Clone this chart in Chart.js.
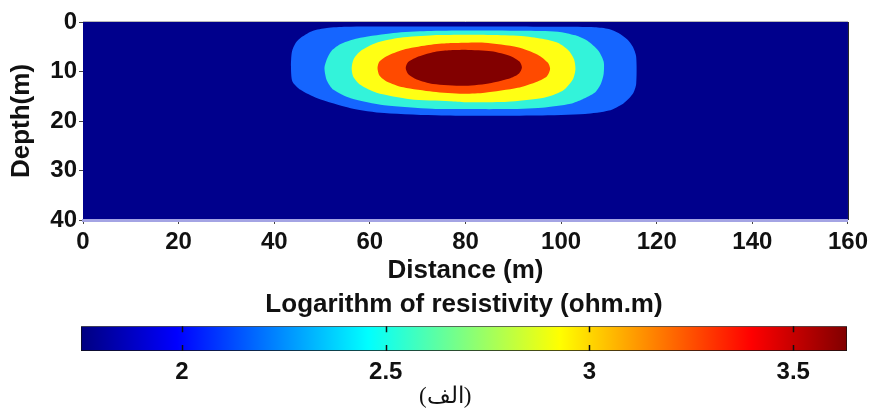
<!DOCTYPE html>
<html>
<head>
<meta charset="utf-8">
<script src="https://cdn.jsdelivr.net/npm/chart.js@4.4.1/dist/chart.umd.min.js"></script>
<style>
  body { margin: 0; background: #fff; width: 872px; height: 413px; position: relative; overflow: hidden; }
  #section-chart { position: absolute; left: 0; top: 0; }
  #scale-chart { position: absolute; left: 0; top: 285px; }
  #caption { position: absolute; left: 419px; top: 382px; font: 23px 'Liberation Serif', 'DejaVu Serif', serif; color: #111; }
</style>
</head>
<body>
<canvas id="section-chart" width="872" height="290"></canvas>
<canvas id="scale-chart" width="872" height="128"></canvas>
<div id="caption">(الف)</div>
<script>
// axis ticks
const distanceTicks = [0, 20, 40, 60, 80, 100, 120, 140, 160];
const depthTicks = [0, 10, 20, 30, 40];
const colorbarTicks = [2, 2.5, 3, 3.5];
const colorbarRange = [1.752, 3.632];

// contour outlines, [distance m, depth m], outermost level first
const level1 = [[80,0.9],[100,0.95],[107,1.05],[110,1.4],[112,2.2],[113.8,3.5],[115,5],[115.7,7],[115.7,12.5],[115,14.5],[113.1,16.4],[110,17.9],[105,18.6],[95,18.9],[75,18.9],[63,18.4],[56,17.4],[49,15.4],[45.5,13.7],[43.8,12],[43.5,9],[43.7,6],[44.5,4.2],[45.8,3],[48,1.8],[51,1.2],[55,0.95],[65,0.9],[80,0.9]];
const level2 = [[80,1.7],[92,1.75],[99.3,1.95],[103,2.7],[105.5,3.8],[107.8,5.8],[108.9,8],[108.9,10.5],[108.3,12.5],[107,14.3],[104.5,15.6],[102,16.5],[96,17.3],[88,17.6],[80,17.6],[73,17.5],[63,16.8],[56,15.4],[52.4,13.7],[51,11.8],[50.5,9.3],[51,7.5],[52,5.8],[54,4.4],[58,3.2],[64.9,2.2],[72,1.8],[80,1.7]];
const level3 = [[80,2.6],[86,2.65],[92.3,2.9],[96.5,3.5],[99.3,4.2],[101.5,5.7],[102.7,7.5],[103,9.5],[102.5,11.5],[100.6,13.7],[98.5,14.7],[95.8,15.4],[88.8,16.1],[80,16.2],[76.7,16.0],[68.4,15.6],[61.4,14.3],[58,12.7],[56.5,11],[56.2,9.3],[56.6,7.5],[58,5.9],[61.4,4.2],[66.3,3.2],[73.2,2.7],[80,2.6]];
const level4 = [[80,4.2],[84,4.2],[90.9,5.1],[95.1,6.6],[97.2,8.2],[97.7,9.5],[97,11],[95.1,12.0],[90.9,13.3],[84,14.3],[79.5,14.5],[73.2,14.1],[67,13.2],[63.5,12.0],[62,10.8],[61.6,9.3],[62,8],[63.5,6.9],[67,5.6],[71.9,4.7],[76,4.3],[80,4.2]];
const level5 = [[80,5.6],[85.4,5.9],[89.5,6.9],[91.3,8],[91.8,9.2],[91.2,10.4],[89.5,11.3],[85.4,12.3],[80,12.9],[73.2,12.5],[69.8,11.6],[68,10.5],[67.5,9.3],[68,8.1],[69.8,7.1],[73.2,6.1],[76.5,5.7],[80,5.6]];

const levels = [level1, level2, level3, level4, level5];
const levelColors = ['#1565ff', '#33f3da', '#ffff14', '#ff4a00', '#820000'];
const backgroundColor = '#00008c';
const jetStops = [[0, '#000080'], [0.125, '#0000ff'], [0.375, '#00ffff'], [0.625, '#ffff00'], [0.875, '#ff0000'], [1, '#800000']];

const textColor = '#111';
const boldFont = size => ({ family: "'Liberation Sans', Arial, sans-serif", size, weight: 'bold' });
const fixTicks = list => scale => { scale.ticks = list.map(v => ({ value: v })); };

// navy fill behind the contours, thin frame on top/right
const sectionFrame = {
  id: 'sectionFrame',
  beforeDraw(chart) {
    const { ctx, chartArea: a } = chart;
    ctx.save();
    ctx.fillStyle = backgroundColor;
    ctx.fillRect(a.left, a.top, a.right - a.left, a.bottom - a.top);
    ctx.restore();
  },
  afterDraw(chart) {
    const { ctx, chartArea: a } = chart;
    ctx.save();
    ctx.lineWidth = 1;
    ctx.strokeStyle = '#b8b8b8';
    ctx.beginPath();
    ctx.moveTo(a.left, a.top - 0.5);
    ctx.lineTo(a.right, a.top - 0.5);
    ctx.stroke();
    ctx.strokeStyle = '#222';
    ctx.beginPath();
    ctx.moveTo(a.right + 0.5, a.top);
    ctx.lineTo(a.right + 0.5, a.bottom);
    ctx.stroke();
    ctx.restore();
  }
};

new Chart(document.getElementById('section-chart'), {
  type: 'line',
  data: {
    datasets: levels.map((pts, i) => ({
      data: pts.map(([x, y]) => ({ x, y })),
      backgroundColor: levelColors[i],
      borderWidth: 0,
      pointRadius: 0,
      fill: 'shape',
      tension: 0.25,
      order: levels.length - i
    }))
  },
  options: {
    responsive: false,
    animation: false,
    layout: { padding: { top: 22, right: 20, left: 0, bottom: 0 } },
    plugins: { legend: { display: false }, tooltip: { enabled: false } },
    scales: {
      x: {
        type: 'linear', min: 0, max: 160,
        afterBuildTicks: fixTicks(distanceTicks),
        afterFit: s => { s.height = 70; },
        ticks: { font: boldFont(24), color: textColor, padding: 4, maxRotation: 0, autoSkip: false },
        grid: { drawOnChartArea: false, tickLength: 4, color: '#444' },
        border: { color: '#a4a4e4', width: 3 },
        title: { display: true, text: 'Distance (m)', font: boldFont(26), color: textColor, padding: { top: 0, bottom: 4 } }
      },
      y: {
        type: 'linear', reverse: true, min: 0, max: 40,
        afterBuildTicks: fixTicks(depthTicks),
        afterFit: s => { s.width = 83; },
        ticks: { font: boldFont(24), color: textColor, padding: 2, autoSkip: false },
        grid: { drawOnChartArea: false, tickLength: 4, color: '#444' },
        border: { display: false },
        title: { display: true, text: 'Depth(m)', font: boldFont(26), color: textColor, padding: { top: 6, bottom: 0 } }
      }
    }
  },
  plugins: [sectionFrame]
});

function jetGradient(chart) {
  const a = chart.chartArea;
  if (!a) return backgroundColor;
  const g = chart.ctx.createLinearGradient(a.left, 0, a.right, 0);
  jetStops.forEach(([f, c]) => g.addColorStop(f, c));
  return g;
}

// short black ticks on the top and bottom inner edges of the colour bar
const colorbarMarks = {
  id: 'colorbarMarks',
  afterDatasetsDraw(chart) {
    const { ctx, chartArea: a } = chart;
    const scale = chart.scales.x;
    ctx.save();
    ctx.strokeStyle = '#111';
    ctx.lineWidth = 1.5;
    scale.ticks.forEach(t => {
      const px = Math.round(scale.getPixelForValue(t.value)) + 0.5;
      ctx.beginPath();
      ctx.moveTo(px, a.top);
      ctx.lineTo(px, a.top + 6);
      ctx.moveTo(px, a.bottom - 6);
      ctx.lineTo(px, a.bottom);
      ctx.stroke();
    });
    ctx.restore();
  }
};

new Chart(document.getElementById('scale-chart'), {
  type: 'bar',
  data: {
    labels: [''],
    datasets: [{
      data: [colorbarRange],
      backgroundColor: ctx => jetGradient(ctx.chart),
      borderColor: '#111',
      borderWidth: 1,
      borderSkipped: false,
      barPercentage: 1,
      categoryPercentage: 1
    }]
  },
  options: {
    indexAxis: 'y',
    responsive: false,
    animation: false,
    layout: { padding: { left: 81, right: 25, top: 0, bottom: 0 } },
    plugins: {
      legend: { display: false },
      tooltip: { enabled: false },
      title: { display: true, text: 'Logarithm of resistivity (ohm.m)', font: boldFont(26), color: textColor, padding: { top: 4, bottom: 6 } }
    },
    scales: {
      x: {
        type: 'linear', min: colorbarRange[0], max: colorbarRange[1],
        afterBuildTicks: fixTicks(colorbarTicks),
        afterFit: s => { s.height = 62; },
        ticks: { font: boldFont(24), color: textColor, padding: 7, autoSkip: false, callback: v => String(v) },
        grid: { display: false, drawTicks: false },
        border: { display: false }
      },
      y: { display: false }
    }
  },
  plugins: [colorbarMarks]
});
</script>
</body>
</html>
